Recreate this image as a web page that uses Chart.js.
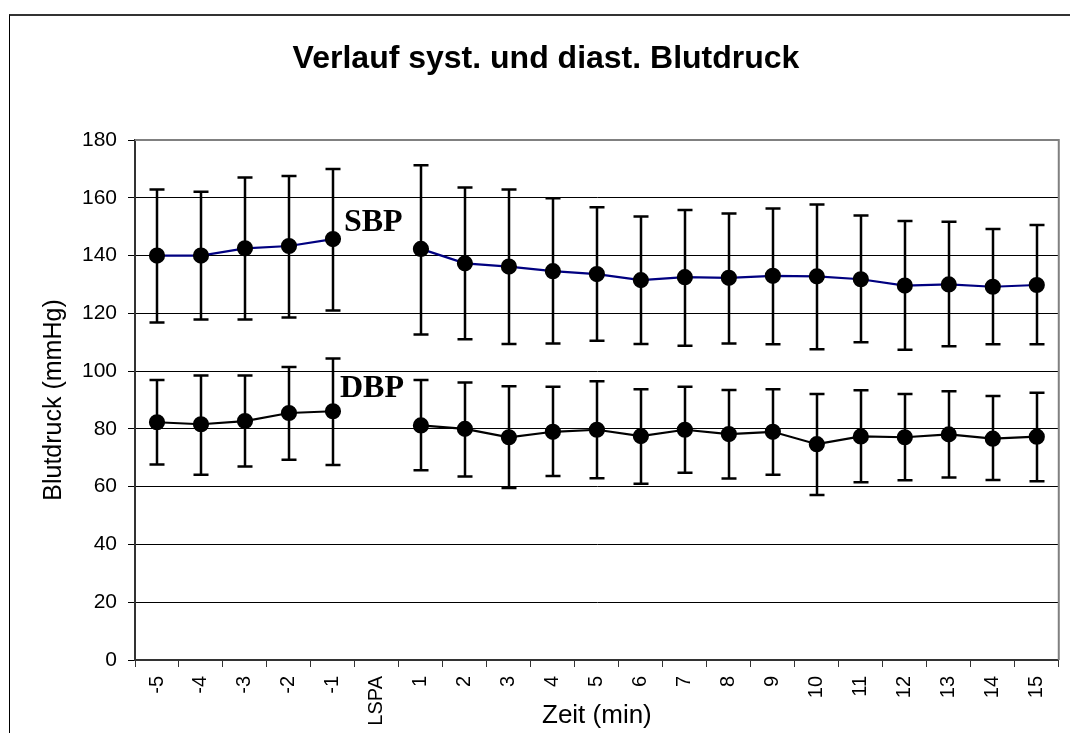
<!DOCTYPE html>
<html>
<head>
<meta charset="utf-8">
<script src="https://cdn.jsdelivr.net/npm/chart.js@4"></script>
<style>
  html, body { margin: 0; padding: 0; background: #fff; overflow: hidden; }
  #frame { position: absolute; left: 9px; top: 14px; width: 2000px; height: 2000px;
           border-left: 1px solid #000; border-top: 2px solid #333; }
  #chart { position: absolute; left: 0; top: 0; }
</style>
</head>
<body>
<div id="frame"></div>
<canvas id="chart" width="1070" height="733"></canvas>
<script>
// Zeitpunkte (min), LSPA = Ereignis ohne Messung
const zeit = ['-5', '-4', '-3', '-2', '-1', 'LSPA', '1', '2', '3', '4', '5', '6', '7', '8', '9', '10', '11', '12', '13', '14', '15'];

// systolischer Blutdruck: Mittelwert und Fehlerbalken
const sbpMean  = [140.0, 140.0, 142.5, 143.3, 145.7, null, 142.3, 137.3, 136.2, 134.6, 133.6, 131.5, 132.5, 132.3, 133.0, 132.8, 131.8, 129.6, 130.0, 129.2, 129.8];
const sbpUpper = [162.9, 162.1, 167.0, 167.5, 170.0, null, 171.3, 163.6, 162.9, 159.8, 156.7, 153.5, 155.8, 154.6, 156.3, 157.7, 153.9, 152.0, 151.7, 149.2, 150.6];
const sbpLower = [116.8, 117.9, 117.9, 118.6, 121.0, null, 112.7, 111.0, 109.4, 109.6, 110.5, 109.4, 108.8, 109.6, 109.3, 107.6, 110.0, 107.4, 108.6, 109.3, 109.3];

// diastolischer Blutdruck
const dbpMean  = [82.3, 81.6, 82.7, 85.5, 86.1, null, 81.2, 80.0, 77.1, 79.0, 79.7, 77.5, 79.7, 78.2, 79.0, 74.7, 77.4, 77.1, 78.1, 76.6, 77.3];
const dbpUpper = [96.9, 98.5, 98.5, 101.4, 104.4, null, 96.9, 96.1, 94.8, 94.6, 96.5, 93.7, 94.6, 93.5, 93.7, 92.1, 93.4, 92.1, 93.0, 91.4, 92.5];
const dbpLower = [67.7, 64.1, 67.0, 69.3, 67.5, null, 65.7, 63.5, 59.5, 63.7, 62.9, 61.0, 64.8, 62.8, 64.1, 57.1, 61.5, 62.2, 63.2, 62.3, 61.9];

// Beschriftungen im Diagramm (Text, Wert der Grundlinie)
const seriesLabels = ['SBP', 'DBP'];
const seriesLabelValues = [148.5, 91.1];

const yTicks = [0, 20, 40, 60, 80, 100, 120, 140, 160, 180];

const sans = "'Liberation Sans', Arial, sans-serif";

// Fehlerbalken unter den Punkten zeichnen
const errorBars = {
  id: 'errorBars',
  beforeDatasetsDraw(chart) {
    const { ctx, scales: { x, y } } = chart;
    const sets = [[sbpUpper, sbpLower], [dbpUpper, dbpLower]];
    ctx.save();
    ctx.strokeStyle = '#000';
    ctx.lineWidth = 2.5;
    sets.forEach(([up, low]) => {
      up.forEach((u, i) => {
        if (u === null) return;
        const px = Math.round(x.getPixelForValue(i));
        const top = y.getPixelForValue(u);
        const bot = y.getPixelForValue(low[i]);
        ctx.beginPath();
        ctx.moveTo(px, top); ctx.lineTo(px, bot);
        ctx.moveTo(px - 7.5, top); ctx.lineTo(px + 7.5, top);
        ctx.moveTo(px - 7.5, bot); ctx.lineTo(px + 7.5, bot);
        ctx.stroke();
      });
    });
    ctx.restore();
  }
};

// graue Umrandung oben/rechts, Beschriftungen SBP/DBP
const plotFrame = {
  id: 'plotFrame',
  beforeDatasetsDraw(chart) {
    const { ctx, chartArea: a } = chart;
    ctx.save();
    ctx.strokeStyle = '#808080';
    ctx.lineWidth = 2;
    ctx.beginPath();
    ctx.moveTo(a.left, a.top);
    ctx.lineTo(a.right, a.top);
    ctx.lineTo(a.right, a.bottom);
    ctx.stroke();
    ctx.restore();
  },
  afterDatasetsDraw(chart) {
    const { ctx, scales: { x, y } } = chart;
    const offsets = [11, 7];
    ctx.save();
    ctx.fillStyle = '#000';
    ctx.font = "bold 32px 'Liberation Serif', 'Times New Roman', serif";
    ctx.textAlign = 'left';
    ctx.textBaseline = 'alphabetic';
    seriesLabels.forEach((t, i) => {
      ctx.fillText(t, x.getPixelForValue(4) + offsets[i], y.getPixelForValue(seriesLabelValues[i]));
    });
    ctx.restore();
  }
};

new Chart(document.getElementById('chart'), {
  type: 'line',
  data: {
    labels: zeit,
    datasets: [
      {
        label: 'SBP',
        data: sbpMean,
        borderColor: '#000080',
        borderWidth: 2.2,
        pointBackgroundColor: '#000',
        pointBorderColor: '#000',
        pointRadius: 7,
        spanGaps: false,
        tension: 0
      },
      {
        label: 'DBP',
        data: dbpMean,
        borderColor: '#000',
        borderWidth: 2.2,
        pointBackgroundColor: '#000',
        pointBorderColor: '#000',
        pointRadius: 7,
        spanGaps: false,
        tension: 0
      }
    ]
  },
  options: {
    responsive: false,
    animation: false,
    devicePixelRatio: 1,
    layout: { padding: { left: 31, right: 9, top: 0, bottom: 0 } },
    plugins: {
      legend: { display: false },
      tooltip: { enabled: false },
      title: {
        display: true,
        text: 'Verlauf syst. und diast. Blutdruck',
        color: '#000',
        font: { family: sans, size: 32, weight: 'bold', lineHeight: 1.2 },
        padding: { top: 39.5, bottom: 62.1 }
      }
    },
    scales: {
      x: {
        type: 'category',
        offset: true,
        grid: { offset: true, drawOnChartArea: false, drawTicks: true, tickLength: 7, color: '#333', lineWidth: 1 },
        border: { display: true, color: '#333', width: 2 },
        ticks: {
          color: '#000',
          font: { family: sans, size: 20 },
          minRotation: 90,
          maxRotation: 90,
          padding: 9,
          autoSkip: false
        },
        title: {
          display: true,
          text: 'Zeit (min)',
          color: '#000',
          font: { family: sans, size: 26 },
          padding: { top: 0, bottom: 2 }
        },
        afterFit(scale) { scale.height = 73; }
      },
      y: {
        min: 0,
        max: 180,
        afterBuildTicks(scale) { scale.ticks = yTicks.map(v => ({ value: v })); },
        grid: { color: '#000', lineWidth: 1, drawTicks: true, tickLength: 7, tickColor: '#000' },
        border: { display: true, color: '#333', width: 2 },
        ticks: {
          color: '#000',
          font: { family: sans, size: 21 },
          padding: 11
        },
        title: {
          display: true,
          text: 'Blutdruck (mmHg)',
          color: '#000',
          font: { family: sans, size: 25, lineHeight: 1.2 },
          padding: { top: 8, bottom: 0 }
        },
        afterFit(scale) { scale.width = 104; }
      }
    }
  },
  plugins: [errorBars, plotFrame]
});
</script>
</body>
</html>
